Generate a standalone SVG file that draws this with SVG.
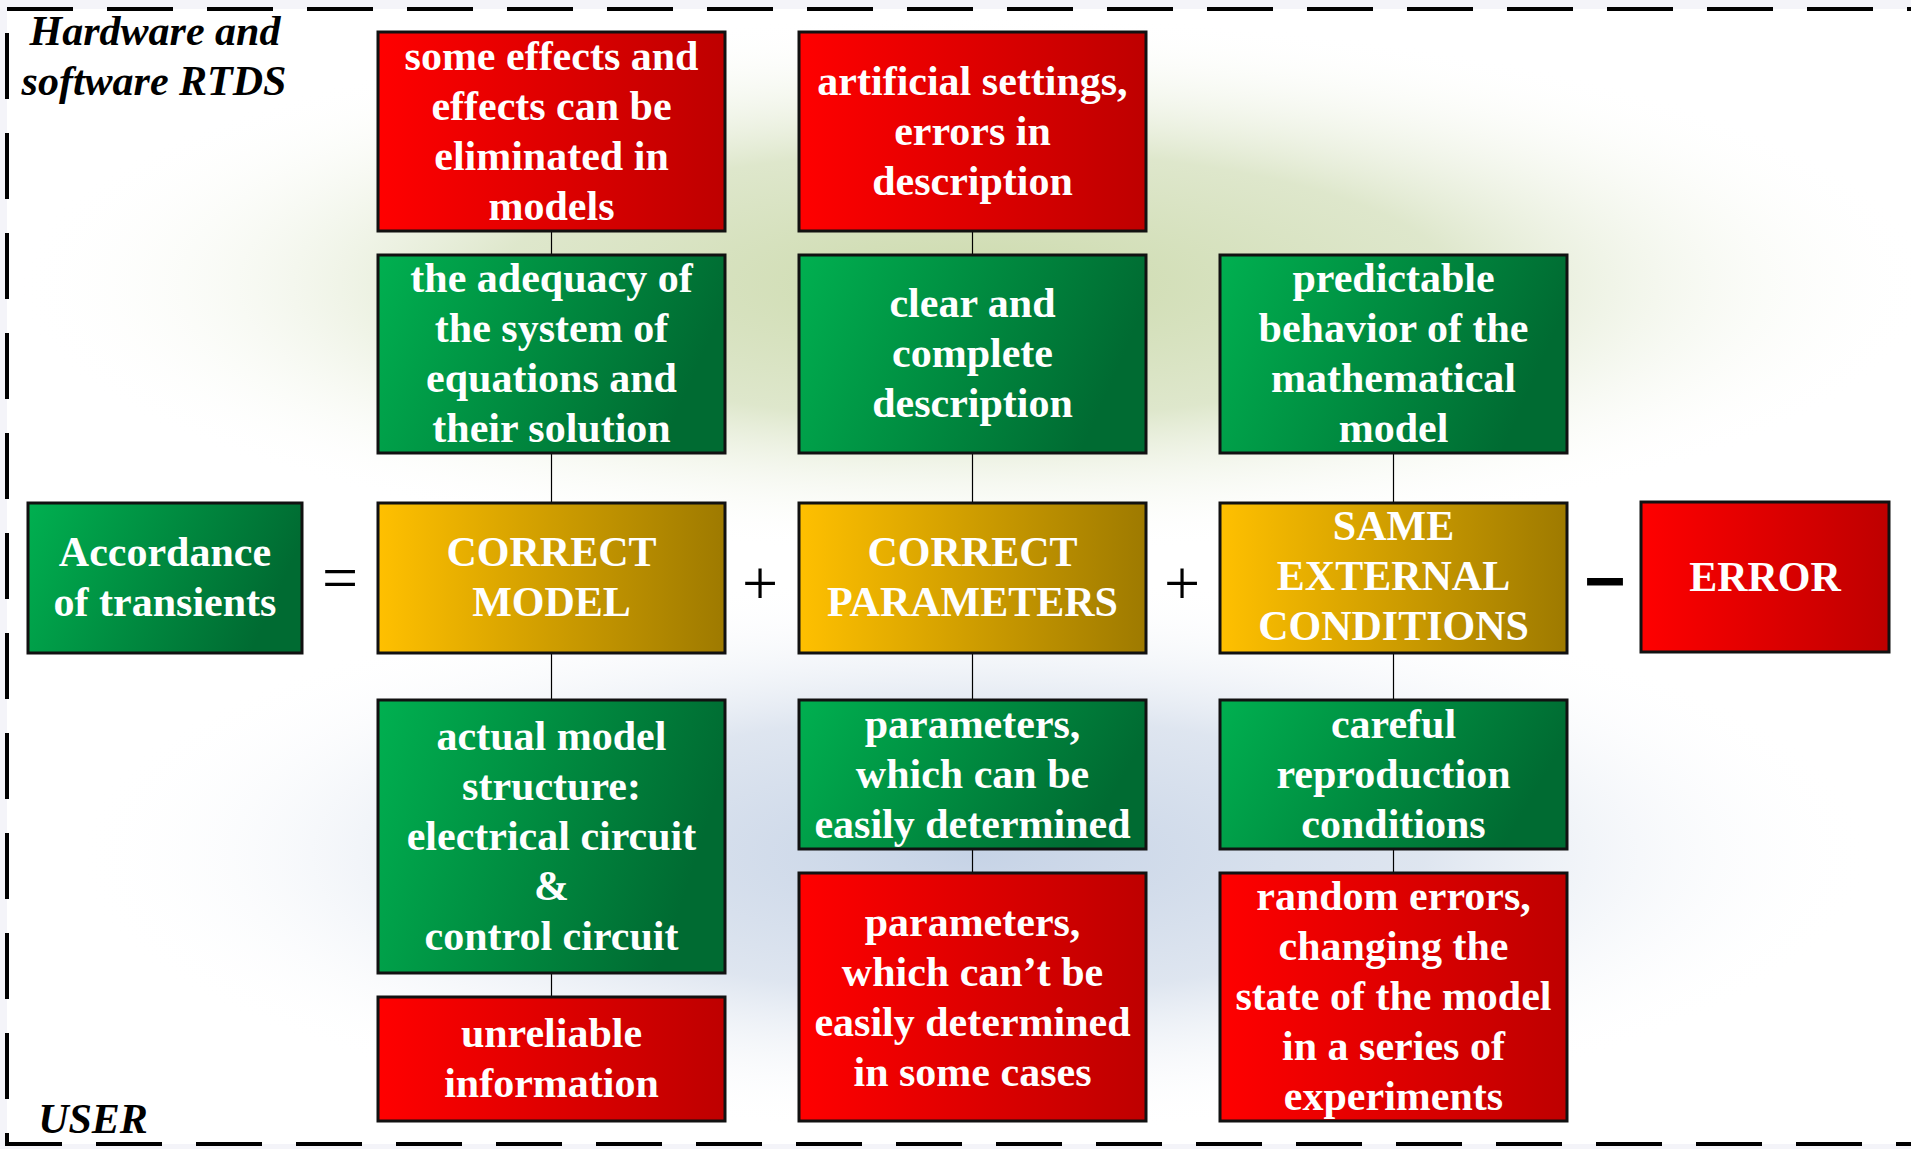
<svg xmlns="http://www.w3.org/2000/svg" width="1911" height="1149" viewBox="0 0 1911 1149">
<defs>
<linearGradient id="gRed" x1="0" y1="0" x2="1" y2="0"><stop offset="0" stop-color="#FF0000"/><stop offset="1" stop-color="#BE0000"/></linearGradient>
<linearGradient id="gGreen" x1="0" y1="0" x2="1" y2="0.25"><stop offset="0" stop-color="#00B050"/><stop offset="1" stop-color="#006B32"/></linearGradient>
<linearGradient id="gYellow" x1="0" y1="0" x2="1" y2="0"><stop offset="0" stop-color="#FFC000"/><stop offset="1" stop-color="#9E7A00"/></linearGradient>
<radialGradient id="bgGreen"><stop offset="0" stop-color="#CCDAAC" stop-opacity="1"/><stop offset="0.5" stop-color="#D6E1BF" stop-opacity="0.8"/><stop offset="1" stop-color="#FFFFFF" stop-opacity="0"/></radialGradient>
<radialGradient id="bgBlue"><stop offset="0" stop-color="#C6D3E6" stop-opacity="1"/><stop offset="0.5" stop-color="#D6DFEC" stop-opacity="0.8"/><stop offset="1" stop-color="#FFFFFF" stop-opacity="0"/></radialGradient>
</defs>
<style>
.box{stroke:#111;stroke-width:3}
.red{fill:url(#gRed)}
.green{fill:url(#gGreen)}
.yellow{fill:url(#gYellow)}
.t{font-family:"Liberation Serif","Times New Roman",serif;font-weight:bold;font-size:42px;fill:#FFFFFF;text-anchor:middle}
.lbl{font-family:"Liberation Serif","Times New Roman",serif;font-weight:bold;font-style:italic;font-size:42px;fill:#000;text-anchor:middle}
.op{font-family:"Liberation Serif","Times New Roman",serif;font-size:64px;fill:#000;text-anchor:middle}
.conn{stroke:#000;stroke-width:1.2;fill:none}
</style>
<rect x="0" y="0" width="1911" height="1149" fill="#F4F4F9"/>
<rect x="7" y="9" width="1910" height="1135" fill="#FFFFFF"/>
<ellipse cx="975" cy="285" rx="960" ry="270" fill="url(#bgGreen)"/>
<ellipse cx="975" cy="855" rx="900" ry="280" fill="url(#bgBlue)"/>
<rect x="7" y="9" width="1910" height="1135" fill="none" stroke="#000" stroke-width="4" stroke-dasharray="66 34"/>

<text class="lbl" x="155" y="45">Hardware and</text>
<text class="lbl" x="154" y="95">software RTDS</text>
<text class="lbl" x="93" y="1133">USER</text>

<g id="connectors">
<line class="conn" x1="551.5" y1="231" x2="551.5" y2="255"/>
<line class="conn" x1="551.5" y1="453" x2="551.5" y2="503"/>
<line class="conn" x1="551.5" y1="653" x2="551.5" y2="700"/>
<line class="conn" x1="551.5" y1="973" x2="551.5" y2="997"/>
<line class="conn" x1="972.5" y1="231" x2="972.5" y2="255"/>
<line class="conn" x1="972.5" y1="453" x2="972.5" y2="503"/>
<line class="conn" x1="972.5" y1="653" x2="972.5" y2="700"/>
<line class="conn" x1="972.5" y1="849" x2="972.5" y2="873"/>
<line class="conn" x1="1393.5" y1="453" x2="1393.5" y2="503"/>
<line class="conn" x1="1393.5" y1="653" x2="1393.5" y2="700"/>
<line class="conn" x1="1393.5" y1="849" x2="1393.5" y2="873"/>
</g>

<g id="n-accordance"><rect class="box green" x="28" y="503" width="274" height="150"/>
<text class="t" x="165" y="566">Accordance</text><text class="t" x="165" y="616">of transients</text></g>

<g id="n-correct-model"><rect class="box yellow" x="378" y="503" width="347" height="150"/>
<text class="t" x="551.5" y="566">CORRECT</text><text class="t" x="551.5" y="616">MODEL</text></g>

<g id="n-correct-parameters"><rect class="box yellow" x="799" y="503" width="347" height="150"/>
<text class="t" x="972.5" y="566">CORRECT</text><text class="t" x="972.5" y="616">PARAMETERS</text></g>

<g id="n-same-conditions"><rect class="box yellow" x="1220" y="503" width="347" height="150"/>
<text class="t" x="1393.5" y="540">SAME</text><text class="t" x="1393.5" y="590">EXTERNAL</text><text class="t" x="1393.5" y="640">CONDITIONS</text></g>

<g id="n-error"><rect class="box red" x="1641" y="502" width="248" height="150"/>
<text class="t" x="1765" y="591">ERROR</text></g>

<g id="n-effects"><rect class="box red" x="378" y="32" width="347" height="199"/>
<text class="t" x="551.5" y="70">some effects and</text><text class="t" x="551.5" y="120">effects can be</text><text class="t" x="551.5" y="170">eliminated in</text><text class="t" x="551.5" y="220">models</text></g>

<g id="n-artificial"><rect class="box red" x="799" y="32" width="347" height="199"/>
<text class="t" x="972.5" y="95">artificial settings,</text><text class="t" x="972.5" y="145">errors in</text><text class="t" x="972.5" y="195">description</text></g>

<g id="n-adequacy"><rect class="box green" x="378" y="255" width="347" height="198"/>
<text class="t" x="551.5" y="292">the adequacy of</text><text class="t" x="551.5" y="342">the system of</text><text class="t" x="551.5" y="392">equations and</text><text class="t" x="551.5" y="442">their solution</text></g>

<g id="n-clear"><rect class="box green" x="799" y="255" width="347" height="198"/>
<text class="t" x="972.5" y="317">clear and</text><text class="t" x="972.5" y="367">complete</text><text class="t" x="972.5" y="417">description</text></g>

<g id="n-predictable"><rect class="box green" x="1220" y="255" width="347" height="198"/>
<text class="t" x="1393.5" y="292">predictable</text><text class="t" x="1393.5" y="342">behavior of the</text><text class="t" x="1393.5" y="392">mathematical</text><text class="t" x="1393.5" y="442">model</text></g>

<g id="n-actual"><rect class="box green" x="378" y="700" width="347" height="273"/>
<text class="t" x="551.5" y="750">actual model</text><text class="t" x="551.5" y="800">structure:</text><text class="t" x="551.5" y="850">electrical circuit</text><text class="t" x="551.5" y="900">&amp;</text><text class="t" x="551.5" y="950">control circuit</text></g>

<g id="n-params-easy"><rect class="box green" x="799" y="700" width="347" height="149"/>
<text class="t" x="972.5" y="738">parameters,</text><text class="t" x="972.5" y="788">which can be</text><text class="t" x="972.5" y="838">easily determined</text></g>

<g id="n-careful"><rect class="box green" x="1220" y="700" width="347" height="149"/>
<text class="t" x="1393.5" y="738">careful</text><text class="t" x="1393.5" y="788">reproduction</text><text class="t" x="1393.5" y="838">conditions</text></g>

<g id="n-unreliable"><rect class="box red" x="378" y="997" width="347" height="124"/>
<text class="t" x="551.5" y="1047">unreliable</text><text class="t" x="551.5" y="1097">information</text></g>

<g id="n-params-hard"><rect class="box red" x="799" y="873" width="347" height="248"/>
<text class="t" x="972.5" y="936">parameters,</text><text class="t" x="972.5" y="986">which can’t be</text><text class="t" x="972.5" y="1036">easily determined</text><text class="t" x="972.5" y="1086">in some cases</text></g>

<g id="n-random"><rect class="box red" x="1220" y="873" width="347" height="248"/>
<text class="t" x="1393.5" y="910">random errors,</text><text class="t" x="1393.5" y="960">changing the</text><text class="t" x="1393.5" y="1010">state of the model</text><text class="t" x="1393.5" y="1060">in a series of</text><text class="t" x="1393.5" y="1110">experiments</text></g>

<g id="operators">
<text class="op" x="340" y="599">=</text>
<text class="op" x="760" y="605">+</text>
<text class="op" x="1182" y="605">+</text>
<text class="op" x="1605" y="597" font-weight="bold" font-size="70px" stroke="#000" stroke-width="3">–</text>
</g>
</svg>
